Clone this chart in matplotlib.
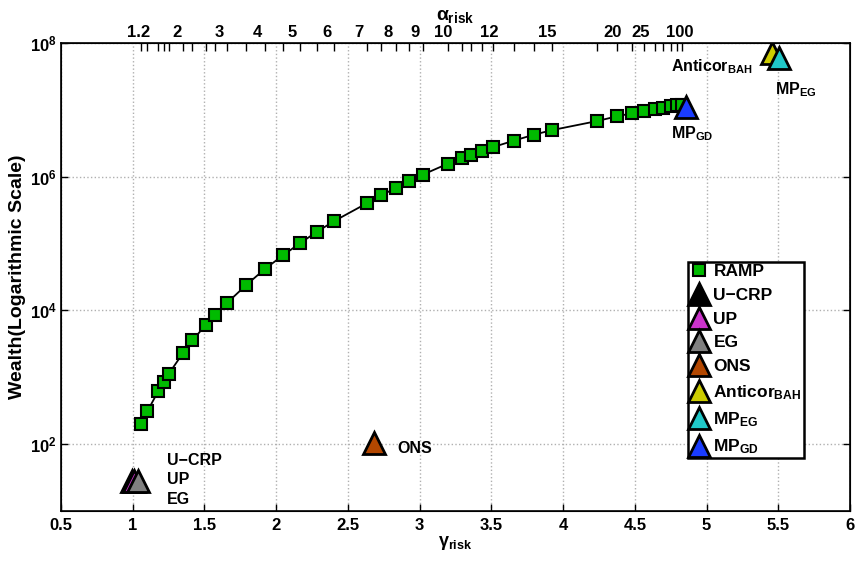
import numpy as np
import matplotlib
matplotlib.use("Agg")
import matplotlib.pyplot as plt
from matplotlib.ticker import FixedLocator, NullLocator, FormatStrFormatter, LogFormatterMathtext

plt.rcParams.update({
    "font.family": ["Liberation Sans", "DejaVu Sans"],
    "font.weight": "bold",
    "axes.labelweight": "bold",
    "mathtext.fontset": "custom",
    "mathtext.rm": "Liberation Sans:bold",
    "mathtext.bf": "Liberation Sans:bold",
    "mathtext.it": "Liberation Sans:bold",
    "mathtext.sf": "Liberation Sans:bold",
})

# RAMP frontier: risk parameter gamma vs. final wealth
gamma_ramp = [1.056, 1.102, 1.179, 1.216, 1.251, 1.351, 1.416, 1.509, 1.570, 1.656,
              1.790, 1.920, 2.046, 2.167, 2.283, 2.404, 2.630, 2.732, 2.832, 2.927,
              3.020, 3.195, 3.294, 3.355, 3.434, 3.513, 3.659, 3.796, 3.924, 4.238,
              4.373, 4.478, 4.566, 4.640, 4.698, 4.750, 4.796, 4.826]
wealth_ramp = [199, 311, 627, 846, 1127, 2321, 3557, 6095, 8419, 12880,
               23930, 41500, 66530, 101600, 150000, 217000, 399000, 526000, 676000, 861000,
               1.07e6, 1.563e6, 1.90e6, 2.13e6, 2.44e6, 2.78e6, 3.48e6, 4.25e6, 4.99e6, 6.81e6,
               8.00e6, 8.87e6, 9.71e6, 1.028e7, 1.076e7, 1.129e7, 1.169e7, 1.18e7]

# Benchmark strategies
bench_names = ["U\u2212CRP", "UP", "EG", "ONS", r"Anticor$_{BAH}$", r"MP$_{EG}$", r"MP$_{GD}$"]
bench_gamma = [0.993, 1.012, 1.035, 2.684, 5.453, 5.505, 4.856]
bench_wealth = [27.9, 27.9, 27.9, 105, 7.01e7, 5.90e7, 1.10e7]
bench_colors = ["#000000", "#cc33cc", "#808080", "#b34700", "#cccc00", "#20c8c8", "#1a3cff"]

# Top axis: alpha_risk labels and their gamma positions
alpha_labels = ["1.2", "2", "3", "4", "5", "6", "7", "8", "9", "10", "12", "15", "20", "25", "100"]
alpha_label_gamma = [1.042, 1.305, 1.600, 1.870, 2.114, 2.355, 2.576, 2.780, 2.967, 3.164,
                     3.483, 3.889, 4.342, 4.540, 4.810]

x_ticks = [0.5, 1, 1.5, 2, 2.5, 3, 3.5, 4, 4.5, 5, 5.5, 6]
y_ticks = [1e2, 1e4, 1e6, 1e8]

fig = plt.figure(figsize=(8.62, 5.61), dpi=100)
ax = fig.add_axes([0.0708, 0.0891, 0.9153, 0.8342])
ax.set_yscale("log")
ax.set_xlim(0.5, 6)
ax.set_ylim(10, 1e8)

ax.plot(gamma_ramp, wealth_ramp, color="k", lw=1.3, zorder=3)
ax.plot(gamma_ramp, wealth_ramp, ls="none", marker="s", ms=9, mfc="#00bb00",
        mec="k", mew=1.5, label="RAMP", zorder=4)
for name, g, w, c in zip(bench_names, bench_gamma, bench_wealth, bench_colors):
    ax.plot([g], [w], ls="none", marker="^", ms=16, mfc=c, mec="k", mew=2,
            label=name, zorder=5)

# Annotations next to the benchmark markers
tkw = dict(fontsize=11.5, fontweight="bold", ha="left")
ax.text(1.238, 57.6, "U\u2212CRP", va="center", **tkw)
ax.text(1.238, 29.9, "UP", va="center", **tkw)
ax.text(1.238, 15.0, "EG", va="center", **tkw)
ax.text(2.848, 87, "ONS", va="center", **tkw)
ax.text(4.752, 3.72e7, r"Anticor$_{BAH}$", va="baseline", **tkw)
ax.text(5.477, 1.73e7, r"MP$_{EG}$", va="baseline", **tkw)
ax.text(4.752, 3.75e6, r"MP$_{GD}$", va="baseline", **tkw)

ax.set_xticks(x_ticks)
ax.xaxis.set_major_formatter(FormatStrFormatter("%g"))
ax.set_yticks(y_ticks)
ax.yaxis.set_minor_locator(NullLocator())
ax.yaxis.set_major_formatter(LogFormatterMathtext())
ax.tick_params(axis="both", which="major", direction="in", length=5, width=1,
               labelsize=12, top=False, right=True)
ax.tick_params(axis="x", pad=5)
ax.tick_params(axis="y", pad=3)
ax.grid(True, ls=":", color="#b0b0b0", lw=1)
for s in ax.spines.values():
    s.set_linewidth(1.2)

ax.set_xlabel(r"$\gamma_{risk}$", fontsize=13, labelpad=1)
ax.set_ylabel("Wealth(Logarithmic Scale)", fontsize=14, labelpad=3)

ax2 = ax.twiny()
ax2.set_xlim(ax.get_xlim())
ax2.xaxis.set_major_locator(FixedLocator(alpha_label_gamma))
ax2.set_xticklabels(alpha_labels)
ax2.xaxis.set_minor_locator(FixedLocator(gamma_ramp))
ax2.tick_params(axis="x", which="major", length=0, pad=2, labelsize=12)
ax2.tick_params(axis="x", which="minor", direction="in", length=6, width=1)
ax2.set_xlabel(r"$\alpha_{risk}$", fontsize=14, labelpad=4)

leg = ax.legend(loc="upper left", bbox_to_anchor=(0.795, 0.532), borderaxespad=0,
                numpoints=1, handlelength=1.0, handletextpad=0.35, borderpad=0.1,
                labelspacing=0.5, fontsize=12.5, fancybox=False, framealpha=1,
                edgecolor="k")
leg.get_frame().set_linewidth(1.8)

fig.savefig("out.png", dpi=100)
